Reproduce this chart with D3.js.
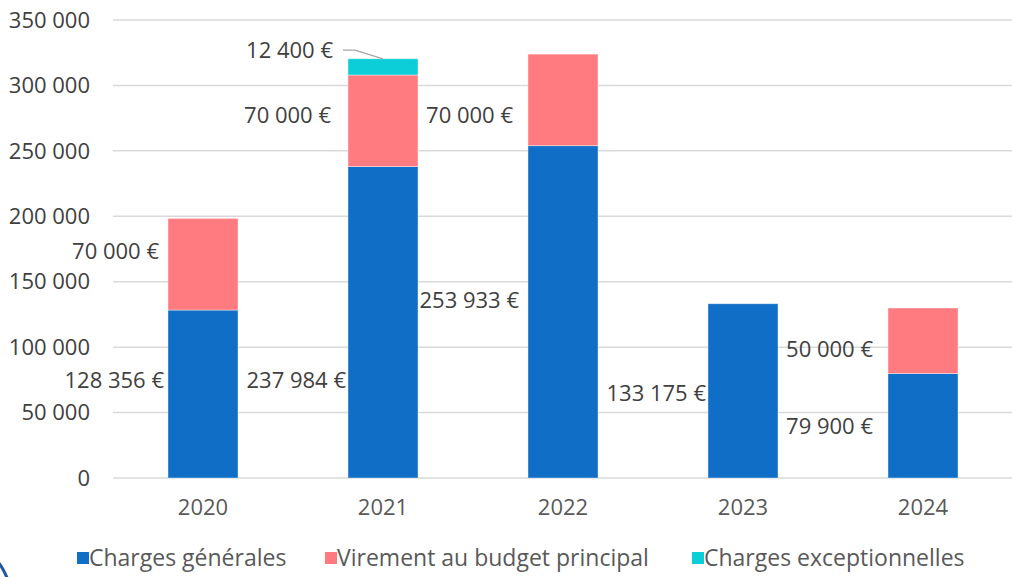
<!DOCTYPE html>
<html>
<head>
<meta charset="utf-8">
<script src="https://cdn.jsdelivr.net/npm/d3@7"></script>
<style>
  html, body { margin: 0; padding: 0; background: #fff; }
  svg { display: block; font-family: "Open Sans", sans-serif; }
</style>
</head>
<body>
<div id="chart"></div>
<script>
//Données
const years = ['2020', '2021', '2022', '2023', '2024'];
const chargesGenerales = [128356, 237984, 253933, 133175, 79900];
const virementBudget = [70000, 70000, 70000, 0, 50000];
const chargesExceptionnelles = [0, 12400, 0, 0, 0];
const seriesNames = ['Charges générales', 'Virement au budget principal', 'Charges exceptionnelles'];
const yTicks = [0, 50000, 100000, 150000, 200000, 250000, 300000, 350000];

//Position des étiquettes (décalage x, niveau y en valeur) par série puis par année
const labelDx = [[-4, -2, -9, -2, -15], [-9, -17, -15, 0, -15], [0, -15, 0, 0, 0]];
const labelLevel = [[74900, 74900, 136000, 65000, 39700], [173500, 277400, 277400, 0, 98600], [0, 327000, 0, 0, 0]];

//Couleurs
const COLOR_1 = '#116EC6', COLOR_2 = '#FF7B7F', COLOR_3 = '#0CCED8';
const colors = [COLOR_1, COLOR_2, COLOR_3];

const W = 1012, H = 577;
const margin = {top: 20, right: -1, bottom: 99, left: 113};

const locale = d3.formatLocale({decimal: ',', thousands: '\u00a0', grouping: [3], currency: ['', '\u00a0€']});
const fmtAxis = locale.format(',d');
const fmtEuro = locale.format('$,d');

const data = years.map((y, i) => ({year: y, s0: chargesGenerales[i], s1: virementBudget[i], s2: chargesExceptionnelles[i]}));
const stacked = d3.stack().keys(['s0', 's1', 's2'])(data);

const svg = d3.select('#chart').append('svg').attr('width', W).attr('height', H);

const x = d3.scaleBand()
    .domain(years)
    .range([margin.left, W - margin.right])
    .paddingInner(0.611)
    .paddingOuter(0.3055);

const y = d3.scaleLinear()
    .domain([0, 350000])
    .range([H - margin.bottom, margin.top]);

//Grille
svg.append('g')
    .selectAll('line')
    .data(yTicks)
    .enter().append('line')
    .attr('x1', margin.left).attr('x2', W)
    .attr('y1', d => y(d)).attr('y2', d => y(d))
    .attr('stroke', '#d9d9d9').attr('stroke-width', 1.5);

//Axe Y
svg.append('g')
    .selectAll('text')
    .data(yTicks)
    .enter().append('text')
    .attr('x', 90).attr('y', d => y(d))
    .attr('dy', '0.35em')
    .attr('text-anchor', 'end')
    .attr('fill', '#404040')
    .attr('font-size', 22)
    .text(d => fmtAxis(d));

//Axe X
svg.append('g')
    .selectAll('text')
    .data(years)
    .enter().append('text')
    .attr('x', d => x(d) + x.bandwidth() / 2)
    .attr('y', y(0) + 29)
    .attr('dy', '0.35em')
    .attr('text-anchor', 'middle')
    .attr('fill', '#595959')
    .attr('font-size', 22)
    .text(d => d);

//Barres
svg.append('g')
    .selectAll('g')
    .data(stacked)
    .enter().append('g')
    .attr('fill', (d, i) => colors[i])
    .selectAll('rect')
    .data(d => d.filter(p => p[1] - p[0] > 0))
    .enter().append('rect')
    .attr('x', d => x(d.data.year))
    .attr('width', x.bandwidth())
    .attr('y', d => y(d[1]))
    .attr('height', d => y(d[0]) - y(d[1]))
    .attr('stroke', '#ffffff').attr('stroke-opacity', 0.5).attr('stroke-width', 0.8);

//Étiquettes
const labels = [];
stacked.forEach((s, si) => {
    s.forEach((p, yi) => {
        const v = p[1] - p[0];
        if (v > 0) labels.push({v: v, x: x(p.data.year) + labelDx[si][yi], y: y(labelLevel[si][yi])});
    });
});

svg.append('g')
    .selectAll('text')
    .data(labels)
    .enter().append('text')
    .attr('x', d => d.x).attr('y', d => d.y)
    .attr('dy', '0.35em')
    .attr('text-anchor', 'end')
    .attr('fill', '#404040')
    .attr('font-size', 22)
    .text(d => fmtEuro(d.v));

//Ligne de rappel 12 400 €
const exc = stacked[2][1];
const lx0 = x(exc.data.year) - 5, ly0 = y(labelLevel[2][1]);
svg.append('path')
    .attr('d', 'M' + lx0 + ',' + ly0 + 'H' + (lx0 + 12) + 'L' + (x(exc.data.year) + x.bandwidth() / 2) + ',' + y(exc[1]))
    .attr('fill', 'none').attr('stroke', '#a6a6a6').attr('stroke-width', 1.3);

//Légende
const legendX = [77, 325, 692];
const lg = svg.append('g')
    .selectAll('g')
    .data(seriesNames)
    .enter().append('g')
    .attr('transform', (d, i) => 'translate(' + legendX[i] + ',' + 558 + ')');
lg.append('rect').attr('x', 0).attr('y', -6).attr('width', 12).attr('height', 12).attr('fill', (d, i) => colors[i]);
lg.append('text')
    .attr('x', 12).attr('dy', '0.35em')
    .attr('fill', '#595959').attr('font-size', 23)
    .text(d => d);

//Décor coin inférieur gauche
svg.append('path')
    .attr('d', 'M-2,562 Q3,568 8,580')
    .attr('fill', 'none').attr('stroke', '#1C5AA0').attr('stroke-width', 3);
</script>
</body>
</html>
